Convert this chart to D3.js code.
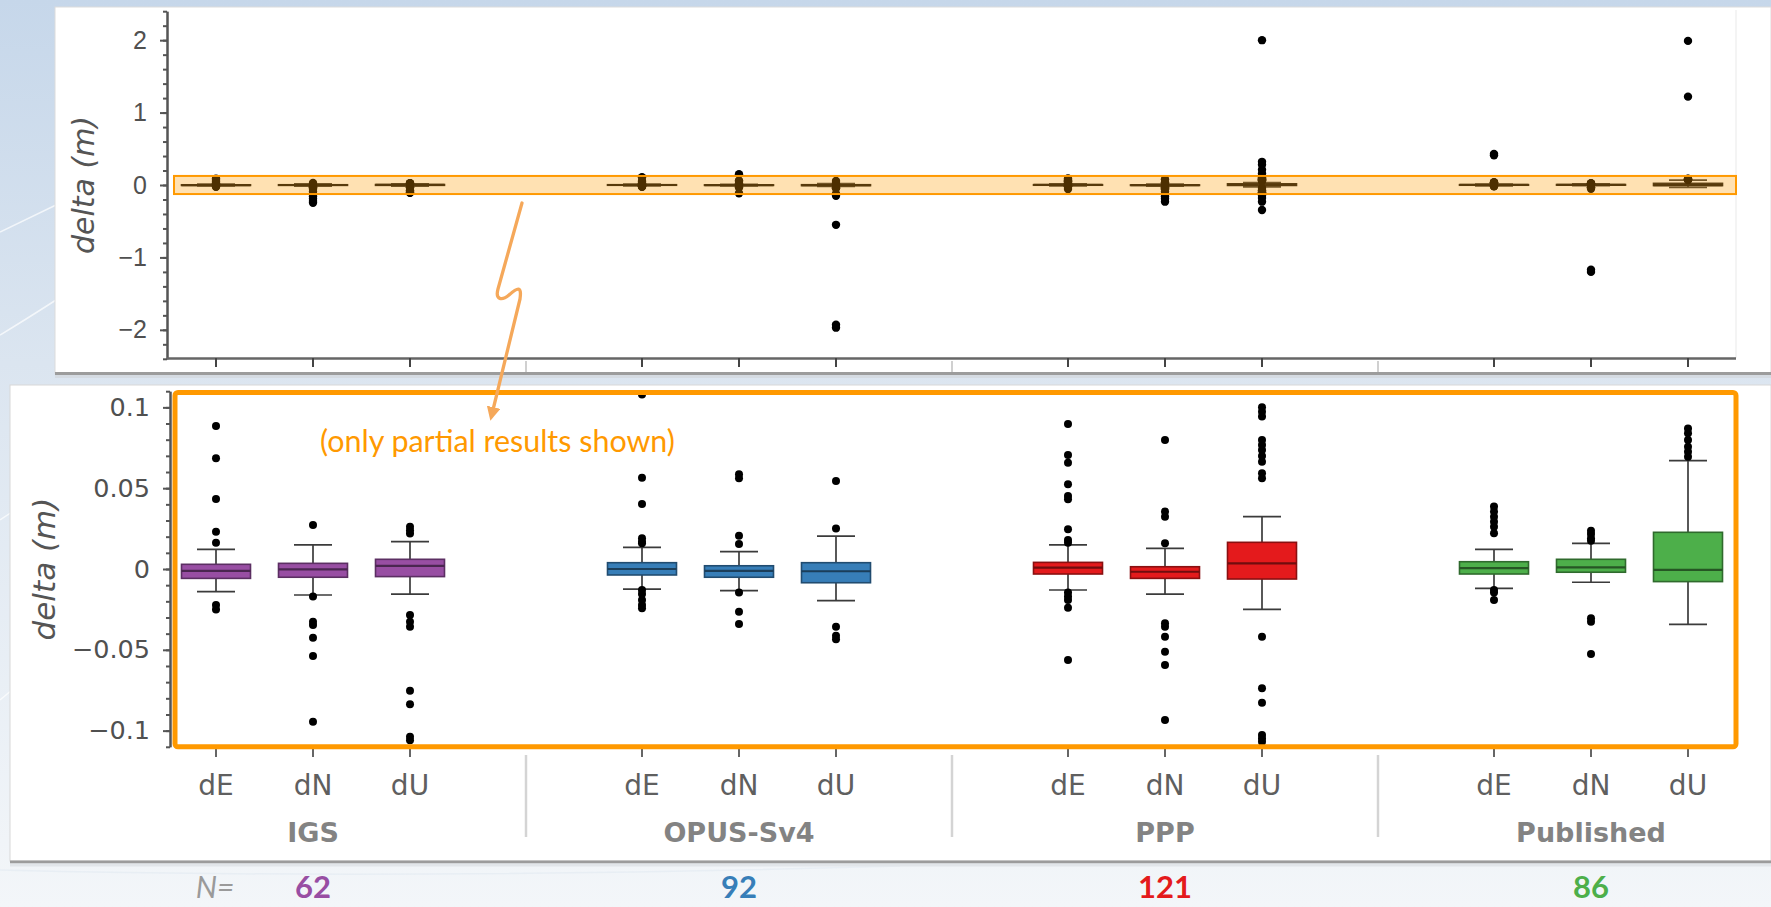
<!DOCTYPE html>
<html><head><meta charset="utf-8">
<script src="https://cdn.jsdelivr.net/npm/d3@7"></script>
<style>
html,body{margin:0;padding:0;background:#fff;}
svg{display:block;}
</style></head>
<body>
<svg id="chart" width="1771" height="907"></svg>
<script>
// ---------------- DATA ----------------
const groups = ["IGS", "OPUS-Sv4", "PPP", "Published"];
const components = ["dE", "dN", "dU"];
const groupN = [62, 92, 121, 86];
const groupColors = ["#984ea3", "#377eb8", "#e41a1c", "#4daf4a"];

// series order: IGS dE,dN,dU | OPUS-Sv4 dE,dN,dU | PPP dE,dN,dU | Published dE,dN,dU  (metres)
const q1        = [-0.0058, -0.0051, -0.0047, -0.0037, -0.0051, -0.0085, -0.0031, -0.0058, -0.0062, -0.0031, -0.0020, -0.0078];
const median    = [-0.0012, -0.0002,  0.0019,  0.0000, -0.0012, -0.0014,  0.0008, -0.0017,  0.0035,  0.0006,  0.0010, -0.0006];
const q3        = [ 0.0029,  0.0035,  0.0060,  0.0039,  0.0020,  0.0039,  0.0041,  0.0014,  0.0165,  0.0045,  0.0060,  0.0227];
const whiskerLo = [-0.0140, -0.0161, -0.0155, -0.0124, -0.0134, -0.0196, -0.0130, -0.0155, -0.0250, -0.0120, -0.0082, -0.0342];
const whiskerHi = [ 0.0122,  0.0149,  0.0169,  0.0134,  0.0107,  0.0204,  0.0149,  0.0128,  0.0324,  0.0122,  0.0159,  0.0670];

const outliers = [
  [0.0885, 0.0685, 0.0433, 0.0231, 0.0163, -0.0223, -0.0250],
  [0.0272, -0.0170, -0.0326, -0.0347, -0.0425, -0.0538, -0.0945, -0.13, -0.16, -0.19, -0.22, -0.245],
  [0.0262, 0.0240, 0.0220, -0.0285, -0.0326, -0.0357, -0.0753, -0.0837, -0.1038, -0.1060],
  [0.108, 0.0565, 0.0402, 0.0190, 0.0169, 0.0159, -0.0130, -0.0155, -0.0192, -0.0223, -0.0243],
  [0.15, 0.0586, 0.0561, 0.0206, 0.0155, -0.0146, -0.0264, -0.0340, -0.115],
  [0.0545, 0.0250, -0.0357, -0.0413, -0.0435, -0.12, -0.15, -0.55, -1.93, -1.97],
  [0.0897, 0.0705, 0.0658, 0.0524, 0.0452, 0.0431, 0.0246, 0.0180, 0.0163, -0.0146, -0.0170, -0.0192, -0.0239, -0.0563],
  [0.0798, 0.0355, 0.0324, 0.0159, -0.0336, -0.0357, -0.0419, -0.0512, -0.0594, -0.0934, -0.13, -0.16, -0.19, -0.23],
  [2.0, 0.32, 0.28, 0.21, 0.16, 0.1000, 0.0973, 0.0943, 0.0798, 0.0767, 0.0736, 0.0699, 0.0664, 0.0592, 0.0561,
   -0.0419, -0.0738, -0.0827, -0.1027, -0.1048, -0.1068, -0.15, -0.18, -0.23, -0.345],
  [0.43, 0.41, 0.0386, 0.0355, 0.0324, 0.0293, 0.0262, 0.0221, -0.0130, -0.0146, -0.0192],
  [0.0237, 0.0217, 0.0190, 0.0175, -0.0305, -0.0326, -0.0526, -1.17, -1.20],
  [1.99, 1.22, 0.0870, 0.0840, 0.0798, 0.0757, 0.0726, 0.0695]
];

const topTicks = [-2, -1, 0, 1, 2];
const topTickLabels = ["\u22122", "\u22121", "0", "1", "2"];
const bottomTicks = [-0.1, -0.05, 0, 0.05, 0.1];
const bottomTickLabels = ["\u22120.1", "\u22120.05", "0", "0.05", "0.1"];
const yTitle = "delta (m)";
const noteText = "(only partial results shown)";
const zoomBand = [-0.125, 0.125];

// ---------------- SETUP ----------------
const W = 1771, H = 907;
const svg = d3.select("#chart");
const defs = svg.append("defs");

const bg = defs.append("linearGradient").attr("id", "bg").attr("x1", 0).attr("y1", 0).attr("x2", 0).attr("y2", 1);
bg.append("stop").attr("offset", "0%").attr("stop-color", "#c6d7ea");
bg.append("stop").attr("offset", "40%").attr("stop-color", "#dbe5f0");
bg.append("stop").attr("offset", "100%").attr("stop-color", "#f3f6f9");
svg.append("rect").attr("width", W).attr("height", H).attr("fill", "url(#bg)");

// faint decorative background strokes
const deco = svg.append("g").attr("fill", "none").attr("stroke", "#ffffff").attr("stroke-opacity", 0.7).attr("stroke-width", 1.5);
deco.append("path").attr("d", "M0,232 L56,205");
deco.append("path").attr("d", "M0,335 Q25,320 56,300");
deco.append("path").attr("d", "M0,520 L12,512");
deco.append("path").attr("d", "M0,700 L12,690");
deco.append("path").attr("d", "M0,870 Q400,880 900,866").attr("stroke", "#e4ebf2");

// panels
svg.append("rect").attr("x", 55).attr("y", 7).attr("width", W - 55).attr("height", 366)
  .attr("fill", "#ffffff").attr("stroke", "#dcdcdc").attr("stroke-width", 1);
svg.append("line").attr("x1", 55).attr("x2", W).attr("y1", 373.5).attr("y2", 373.5).attr("stroke", "#9c9c9c").attr("stroke-width", 3);
svg.append("line").attr("x1", 55).attr("x2", W).attr("y1", 376.5).attr("y2", 376.5).attr("stroke", "#d5dbe2").attr("stroke-width", 3);

svg.append("rect").attr("x", 10).attr("y", 385).attr("width", W - 10).attr("height", 476)
  .attr("fill", "#ffffff").attr("stroke", "#d8d8d8").attr("stroke-width", 1);
svg.append("line").attr("x1", 10).attr("x2", W).attr("y1", 862).attr("y2", 862).attr("stroke", "#9c9c9c").attr("stroke-width", 3);
svg.append("line").attr("x1", 10).attr("x2", W).attr("y1", 865).attr("y2", 865).attr("stroke", "#e2e6ea").attr("stroke-width", 3);

// ---------------- SCALES ----------------
const xGroup = d3.scalePoint().domain(groups).range([313, 1591]);
const xComp = d3.scalePoint().domain(components).range([-97, 97]);
const series = groups.flatMap((g, gi) => components.map((c, ci) => ({ g, c, gi, i: gi * 3 + ci })));
const xPos = s => xGroup(s.g) + xComp(s.c);

const yTop = d3.scaleLinear().domain([-2.4, 2.4]).range([358.8, 11.2]);
const yBot = d3.scaleLinear().domain([-0.11, 0.11]).range([746.8, 391.2]);

const plotRight = 1736;
const boxW = 69, capW = 38;

// separators between groups
const sepX = groups.slice(0, -1).map((g, i) => (xGroup(g) + xGroup(groups[i + 1])) / 2);

// ---------------- BOX DRAWING ----------------
function drawBoxes(layer, y, r, fillFn, strokeFn, medFn) {
  const gS = layer.selectAll("g.series").data(series).join("g")
    .attr("class", "series")
    .attr("transform", s => `translate(${xPos(s)},0)`);
  gS.append("line")
    .attr("x1", 0).attr("x2", 0)
    .attr("y1", s => y(whiskerLo[s.i])).attr("y2", s => y(whiskerHi[s.i]))
    .attr("stroke", "#3b3b3b").attr("stroke-width", 1.7);
  gS.selectAll("line.cap").data(s => [whiskerLo[s.i], whiskerHi[s.i]]).join("line")
    .attr("class", "cap")
    .attr("x1", -capW / 2).attr("x2", capW / 2)
    .attr("y1", d => y(d)).attr("y2", d => y(d))
    .attr("stroke", "#3b3b3b").attr("stroke-width", 1.7);
  gS.append("rect")
    .attr("x", -boxW / 2).attr("width", boxW)
    .attr("y", s => y(q3[s.i]))
    .attr("height", s => Math.max(y(q1[s.i]) - y(q3[s.i]), 0.5))
    .attr("fill", fillFn)
    .attr("stroke", strokeFn)
    .attr("stroke-width", 1.6);
  gS.append("line")
    .attr("x1", -boxW / 2).attr("x2", boxW / 2)
    .attr("y1", s => y(median[s.i])).attr("y2", s => y(median[s.i]))
    .attr("stroke", medFn)
    .attr("stroke-width", 2.2);
  gS.selectAll("circle").data(s => outliers[s.i]).join("circle")
    .attr("cx", 0).attr("cy", d => y(d)).attr("r", r).attr("fill", "#000");
}

// ---------------- TOP PANEL ----------------
const topG = svg.append("g");
topG.selectAll("line.sep").data(sepX).join("line").attr("class", "sep")
  .attr("x1", d => d).attr("x2", d => d).attr("y1", 361).attr("y2", 372)
  .attr("stroke", "#d0d0d0").attr("stroke-width", 2);
topG.append("line").attr("x1", plotRight).attr("x2", plotRight).attr("y1", 10).attr("y2", 358)
  .attr("stroke", "#f0f0f0").attr("stroke-width", 1.5);

const topPlot = topG.append("g");
drawBoxes(topPlot, yTop, 4.2, () => "#2a2a2a", () => "#1a1a1a", () => "#111");

// zoom highlight band
topG.append("rect")
  .attr("x", 174).attr("width", plotRight - 174)
  .attr("y", yTop(zoomBand[1])).attr("height", yTop(zoomBand[0]) - yTop(zoomBand[1]))
  .attr("fill", "#ff9a00").attr("fill-opacity", 0.3)
  .attr("stroke", "#ff9900").attr("stroke-width", 2);

// y axis
const yAxTopMinor = d3.axisLeft(yTop).tickValues(d3.range(-24, 25, 2).map(d => d / 10)).tickSize(4).tickFormat("").tickSizeOuter(0);
const yAxTop = d3.axisLeft(yTop).tickValues(topTicks).tickSize(7).tickPadding(13)
  .tickFormat((d, i) => topTickLabels[i]).tickSizeOuter(0);
const gyt1 = topG.append("g").attr("transform", "translate(167,0)").call(yAxTopMinor);
const gyt2 = topG.append("g").attr("transform", "translate(167,0)").call(yAxTop);
[gyt1, gyt2].forEach(g => {
  g.selectAll("path,line").attr("stroke", "#555").attr("stroke-width", 2);
});
gyt2.selectAll("text").attr("font-family", "Liberation Sans, Arial, sans-serif").attr("font-size", 25).attr("fill", "#505050");

// x axis line + ticks
topG.append("line").attr("x1", 167).attr("x2", plotRight).attr("y1", 358.5).attr("y2", 358.5)
  .attr("stroke", "#666").attr("stroke-width", 2.5);
topG.selectAll("line.xt").data(series).join("line").attr("class", "xt")
  .attr("x1", xPos).attr("x2", xPos).attr("y1", 358).attr("y2", 367)
  .attr("stroke", "#444").attr("stroke-width", 2);

topG.append("text")
  .attr("transform", `translate(83,${yTop(0)}) rotate(-90)`)
  .attr("text-anchor", "middle").attr("dy", "0.35em")
  .attr("font-family", "DejaVu Sans, sans-serif").attr("font-style", "italic")
  .attr("font-size", 30).attr("fill", "#555").text(yTitle);

// ---------------- BOTTOM PANEL ----------------
const botG = svg.append("g");
defs.append("clipPath").attr("id", "clipBot").append("rect")
  .attr("x", 170).attr("y", yBot.range()[1]).attr("width", plotRight - 170)
  .attr("height", yBot.range()[0] - yBot.range()[1]);

botG.selectAll("line.sep").data(sepX).join("line").attr("class", "sep")
  .attr("x1", d => d).attr("x2", d => d).attr("y1", 755).attr("y2", 837)
  .attr("stroke", "#d4d4d4").attr("stroke-width", 2.5);

const botPlot = botG.append("g").attr("clip-path", "url(#clipBot)");
drawBoxes(botPlot, yBot, 4,
  s => groupColors[s.gi],
  s => d3.color(groupColors[s.gi]).darker(1.4),
  s => d3.color(groupColors[s.gi]).darker(2));

// y axis
const yAxBotMinor = d3.axisLeft(yBot).tickValues(d3.range(-11, 12, 1).map(d => d / 100)).tickSize(4).tickFormat("").tickSizeOuter(0);
const yAxBot = d3.axisLeft(yBot).tickValues(bottomTicks).tickSize(7).tickPadding(13)
  .tickFormat((d, i) => bottomTickLabels[i]).tickSizeOuter(0);
const gyb1 = botG.append("g").attr("transform", "translate(170,0)").call(yAxBotMinor);
const gyb2 = botG.append("g").attr("transform", "translate(170,0)").call(yAxBot);
[gyb1, gyb2].forEach(g => {
  g.selectAll("path,line").attr("stroke", "#555").attr("stroke-width", 2);
});
gyb2.selectAll("text").attr("font-family", "DejaVu Sans, sans-serif").attr("font-size", 25.5).attr("fill", "#505050");

// x ticks
botG.selectAll("line.xt").data(series).join("line").attr("class", "xt")
  .attr("x1", xPos).attr("x2", xPos).attr("y1", 748).attr("y2", 757)
  .attr("stroke", "#666").attr("stroke-width", 2);

// category labels
botG.selectAll("text.cat").data(series).join("text").attr("class", "cat")
  .attr("x", xPos).attr("y", 795)
  .attr("text-anchor", "middle")
  .attr("font-family", "DejaVu Sans, sans-serif").attr("font-size", 28).attr("fill", "#5f5f5f")
  .text(s => s.c);
botG.selectAll("text.grp").data(groups).join("text").attr("class", "grp")
  .attr("x", d => xGroup(d)).attr("y", 842)
  .attr("text-anchor", "middle")
  .attr("font-family", "DejaVu Sans, sans-serif").attr("font-weight", "bold").attr("font-size", 27).attr("fill", "#838383")
  .text(d => d);

botG.append("text")
  .attr("transform", `translate(44,${yBot(0)}) rotate(-90)`)
  .attr("text-anchor", "middle").attr("dy", "0.35em")
  .attr("font-family", "DejaVu Sans, sans-serif").attr("font-style", "italic")
  .attr("font-size", 31).attr("fill", "#555").text(yTitle);

// orange zoom frame
botG.append("rect")
  .attr("x", 175).attr("y", yBot.range()[1] + 1.3)
  .attr("width", plotRight - 175)
  .attr("height", yBot.range()[0] - yBot.range()[1] - 1.3)
  .attr("rx", 3)
  .attr("fill", "none").attr("stroke", "#ff9900").attr("stroke-width", 5);

// note text
const note = botG.append("text").attr("x", 320).attr("y", 452)
  .attr("font-family", "Lato, 'Open Sans', sans-serif").attr("font-size", 25).attr("fill", "#ff9900").text(noteText);
const nw = note.node().getComputedTextLength();
note.attr("font-size", 25 * 355 / nw);

// arrow
defs.append("marker").attr("id", "ah").attr("viewBox", "0 0 10 10").attr("refX", 5).attr("refY", 5)
  .attr("markerWidth", 4.2).attr("markerHeight", 4.2).attr("orient", "auto-start-reverse")
  .append("path").attr("d", "M0,0 L10,5 L0,10 z").attr("fill", "#f5a85a");
svg.append("path")
  .attr("d", "M522,203 L498,289 C495,300 502,301 509,295 C517,288 522,285 520,299 L492,414")
  .attr("fill", "none").attr("stroke", "#f5a85a").attr("stroke-width", 3.3)
  .attr("stroke-linecap", "round").attr("stroke-linejoin", "round")
  .attr("marker-end", "url(#ah)");

// N row
svg.append("text").attr("x", 215).attr("y", 898).attr("text-anchor", "middle")
  .attr("font-family", "Lato, 'Open Sans', sans-serif").attr("font-style", "italic").attr("font-size", 30)
  .attr("fill", "#9a9a9a").text("N=");
svg.selectAll("text.n").data(groups).join("text").attr("class", "n")
  .attr("x", d => xGroup(d)).attr("y", 898).attr("text-anchor", "middle")
  .attr("font-family", "Lato, 'Open Sans', sans-serif").attr("font-weight", "bold").attr("font-size", 31)
  .attr("fill", (d, i) => groupColors[i]).text((d, i) => groupN[i]);
</script>
</body></html>
